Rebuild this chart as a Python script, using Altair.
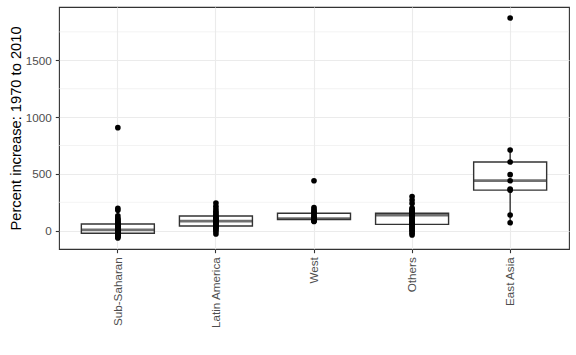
import altair as alt
import pandas as pd

regions = ["Sub-Saharan", "Latin America", "West", "Others", "East Asia"]

sub_saharan = [-64, -55, -50, -45, -40, -35, -32, -29, -27, -25, -23,
               -18, -13, -9, -5, -2, 1, 3, 5, 7, 8,
               12, 17, 22, 27, 32, 37, 42, 48, 54, 59,
               65, 72, 80, 90, 100, 110, 130, 180, 197, 907]
latin_america = [-29, -8, 8, 18, 28, 35, 41, 50, 58, 65, 72, 78, 85,
                 92, 98, 104, 110, 118, 129, 140, 155, 170, 190, 215, 243]
west = [81, 86, 90, 94, 97, 99, 101, 102, 104, 105, 107,
        112, 118, 126, 138, 153, 162, 172, 185, 204, 440]
others = [-38, -22, -8, 5, 15, 25, 35, 45, 56, 65, 75, 85, 95, 105, 115, 127, 138,
          141, 143, 145, 147, 149, 150, 151, 153, 160, 170, 180, 190, 200, 240, 270, 301]
east_asia = [70, 138, 357, 367, 440, 493, 605, 710, 1872]

y_ticks = [0, 500, 1000, 1500]
minor_breaks = [250, 750, 1250, 1750]
y_title = "Percent increase: 1970 to 2010"

rows = []
for name, vals in zip(regions, [sub_saharan, latin_america, west, others, east_asia]):
    for v in vals:
        rows.append({"group": name, "increase": v})
df = pd.DataFrame(rows)
minor_df = pd.DataFrame({"increase": minor_breaks})

FONT = "Liberation Sans"
yscale = alt.Scale(domain=[-161, 1969], nice=False, zero=False)
xscale = alt.Scale(paddingInner=0, paddingOuter=0.1)

x_enc = alt.X("group:N", sort=regions, title=None, scale=xscale,
              axis=alt.Axis(labelAngle=-90, labelAlign="right", labelBaseline="middle",
                            labelPadding=4, tickSize=3.7, tickWidth=1.1, tickColor="#333333",
                            domain=False, grid=True, gridColor="#EBEBEB", gridWidth=1.1,
                            bandPosition=0.5, labelFont=FONT, labelFontSize=11.7,
                            labelColor="#4D4D4D"))
y_enc = alt.Y("increase:Q", scale=yscale, title=y_title,
              axis=alt.Axis(values=y_ticks, format="d", labelPadding=4, tickSize=3.7,
                            tickWidth=1.1, tickColor="#333333", domain=False, grid=True,
                            gridColor="#EBEBEB", gridWidth=1.1, labelFont=FONT,
                            labelFontSize=11.7, labelColor="#4D4D4D",
                            titleFont=FONT, titleFontSize=14.7, titleFontWeight="normal",
                            titleColor="black", titleX=-38.3, titleY=121,
                            titleBaseline="alphabetic", titleAngle=-90))

minor = alt.Chart(minor_df).mark_rule(color="#EBEBEB", strokeWidth=0.6).encode(y=y_enc)

box = alt.Chart(df).mark_boxplot(
    extent=1.5, size=73, outliers=False, ticks=False,
    box={"fill": "white", "stroke": "#333333", "strokeWidth": 1.4},
    median={"color": "#333333", "thickness": 2.8},
    rule={"color": "#333333", "strokeWidth": 1.4},
).encode(x=x_enc, y=y_enc)

points = alt.Chart(df).mark_circle(size=32, color="black", opacity=1).encode(
    x=x_enc, y=y_enc,
)

chart = alt.layer(minor, box, points).properties(
    width=510, height=242,
    autosize=alt.AutoSizeParams(type="none"),
    padding={"left": 59, "top": 7, "right": 7, "bottom": 106},
).configure_view(stroke="#333333", strokeWidth=1.1)

chart.save("out.html", embed_options={"renderer": "svg", "actions": False})
